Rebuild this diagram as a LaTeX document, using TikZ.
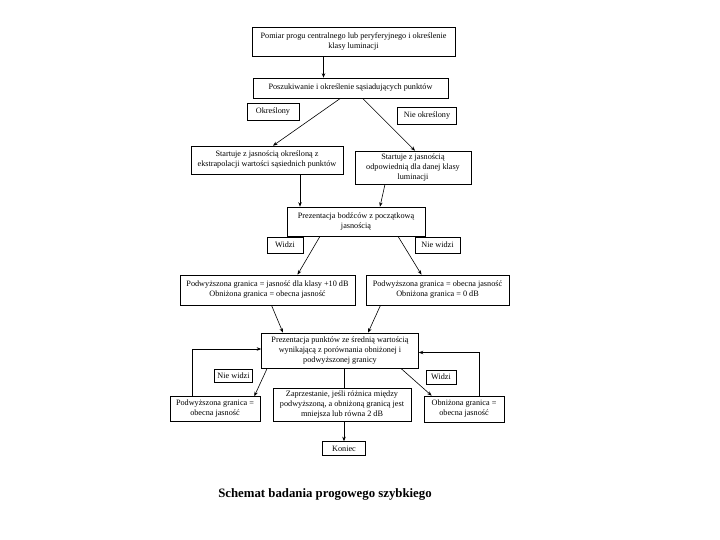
\documentclass[tikz,border=0pt]{standalone}
\usepackage{fontspec}
\setmainfont{Liberation Serif}
\usetikzlibrary{arrows.meta,positioning}

\begin{document}
\begin{tikzpicture}[x=1pt,y=-1pt,
  box/.style={draw, line width=0.6pt, inner sep=1pt, align=center,
    font=\fontsize{8.2}{10}\selectfont},
  ->,>={Stealth[length=4.5pt,width=3.5pt]},line width=0.6pt
]
\useasboundingbox (0,0) rectangle (720,540);

\node[box, minimum width=203, minimum height=29] (pomiar) at (353.5,41.5) {Pomiar progu centralnego lub peryferyjnego i określenie\\klasy luminacji};
\node[box, minimum width=195, minimum height=20] (szuk) at (350.5,88) {Poszukiwanie i określenie sąsiadujących punktów};
\node[box, minimum width=52, minimum height=17] (okr) at (273,112) {Określony};
\node[box, minimum width=59, minimum height=17] (nieokr) at (427,115.5) {Nie określony};
\node[box, minimum width=152, minimum height=28] (startL) at (267,160) {Startuje z jasnością określoną z\\ekstrapolacji wartości sąsiednich\ punktów};
\node[box, minimum width=116, minimum height=33] (startR) at (413,167.5) {Startuje z jasnością\\odpowiednią dla danej klasy\\luminacji};
\node[box, minimum width=138, minimum height=29] (bodz) at (356,221.5) {Prezentacja bodźców z początkową\\jasnością};
\node[box, minimum width=36, minimum height=16] (widziA) at (285,245) {Widzi};
\node[box, minimum width=45, minimum height=16] (niewidziA) at (437.5,245) {Nie widzi};
\node[box, minimum width=175, minimum height=30] (granL) at (267.5,290) {Podwyższona granica = jasność dla klasy +10 dB\\Obniżona granica = obecna jasność};
\node[box, minimum width=143, minimum height=30] (granR) at (437.5,290) {Podwyższona granica = obecna jasność\\Obniżona granica = 0 dB};
\node[box, minimum width=157, minimum height=35] (srednia) at (340,350.5) {Prezentacja punktów ze średnią wartością\\wynikającą z porównania obniżonej i\\podwyższonej granicy};
\node[box, minimum width=38, minimum height=13] (niewidziB) at (233.5,376) {Nie widzi};
\node[box, minimum width=30, minimum height=14] (widziB) at (441,377) {Widzi};
\node[box, minimum width=90, minimum height=25] (podw) at (215,409) {Podwyższona granica =\\obecna jasność};
\node[box, minimum width=138, minimum height=33] (stop) at (342,405) {Zaprzestanie, jeśli różnica między\\podwyższoną, a obniżoną granicą jest\\mniejsza lub równa 2 dB};
\node[box, minimum width=80, minimum height=26] (obniz) at (464,409) {Obniżona granica =\\obecna jasność};
\node[box, minimum width=43, minimum height=14] (koniec) at (344,448.5) {Koniec};
\node[font=\bfseries\fontsize{12.8}{14}\selectfont] (tytul) at (325,494) {Schemat badania progowego szybkiego};

\draw ([xshift=-30]pomiar.south) -- ([xshift=-30]pomiar.south |- szuk.north);
\draw ([xshift=-10]szuk.south) -- ([xshift=6]startL.north);
\draw ([xshift=12]szuk.south) -- ([xshift=2]startR.north);
\draw ([xshift=33]startL.south) -- ([xshift=33]startL.south |- bodz.north);
\draw ([xshift=-28]startR.south) -- ([xshift=24]bodz.north);
\draw ([xshift=-36]bodz.south) -- ([xshift=30]granL.north);
\draw ([xshift=42]bodz.south) -- ([xshift=-16]granR.north);
\draw ([xshift=4]granL.south) -- ([xshift=-57]srednia.north);
\draw ([xshift=-57]granR.south) -- ([xshift=28]srednia.north);
\draw ([xshift=6]srednia.south west) -- ([xshift=-6]podw.north east);
\draw ([xshift=-18]srednia.south east) -- ([xshift=8]obniz.north west);
\draw ([xshift=-23]podw.north) |- ([yshift=1.5]srednia.west);
\draw ([xshift=15]obniz.north) |- ([yshift=-2]srednia.east);
\draw[-] (stop.north -| koniec) -- (srednia.south -| koniec);
\draw (stop.south -| koniec) -- (koniec);
\end{tikzpicture}
\end{document}
